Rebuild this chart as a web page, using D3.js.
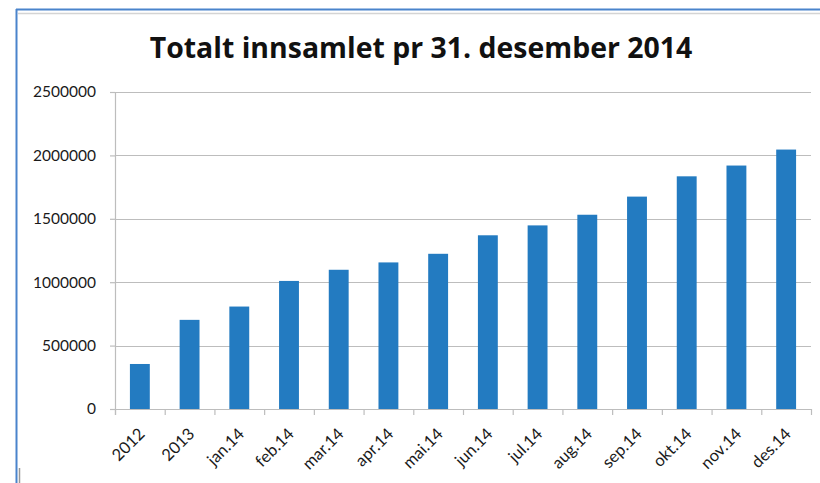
<!DOCTYPE html>
<html>
<head>
<meta charset="utf-8">
<script src="https://cdn.jsdelivr.net/npm/d3@7"></script>
<style>
  body { margin: 0; background: #fff; }
  svg { display: block; }
  .axis text { font-family: Lato, 'Open Sans', sans-serif; fill: #1a1a1a; }
  .y-axis text { font-size: 15.5px; }
  .x-axis text { font-size: 16.5px; }
</style>
</head>
<body>
<svg id="chart" width="820" height="483"></svg>
<script>
// chart data
const categories = ['2012', '2013', 'jan.14', 'feb.14', 'mar.14', 'apr.14', 'mai.14',
  'jun.14', 'jul.14', 'aug.14', 'sep.14', 'okt.14', 'nov.14', 'des.14'];
const totals = [355000, 703000, 808000, 1010000, 1098000, 1156000, 1224000,
  1370000, 1448000, 1532000, 1675000, 1835000, 1920000, 2046000];
const yTicks = [0, 500000, 1000000, 1500000, 2000000, 2500000];
const title = 'Totalt innsamlet pr 31. desember 2014';

const width = 820;
const height = 483;
const padding = { top: 92, right: 9, bottom: 74, left: 115 };
const plotWidth = width - padding.left - padding.right;
const plotHeight = height - padding.top - padding.bottom;

const svg = d3.select('#chart');

// frame: blue border with light inner line
svg.append('line').attr('x1', 16).attr('x2', width).attr('y1', 9.5).attr('y2', 9.5)
  .attr('stroke', '#4a84cc').attr('stroke-width', 2);
svg.append('line').attr('x1', 18).attr('x2', width).attr('y1', 13.5).attr('y2', 13.5)
  .attr('stroke', '#d4d4d4').attr('stroke-width', 1.5);
svg.append('line').attr('x1', 16.5).attr('x2', 16.5).attr('y1', 9).attr('y2', height)
  .attr('stroke', '#4a84cc').attr('stroke-width', 2);
svg.append('line').attr('x1', 19.5).attr('x2', 19.5).attr('y1', 468).attr('y2', height)
  .attr('stroke', '#999').attr('stroke-width', 1.5);

const xScale = d3.scaleBand()
  .domain(categories)
  .range([0, plotWidth])
  .paddingInner(0.6)
  .paddingOuter(0.3);

const yScale = d3.scaleLinear()
  .domain([0, 2500000])
  .range([plotHeight, 0]);

const g = svg.append('g').attr('transform', `translate(${padding.left} ${padding.top})`);

// gridlines
g.append('g')
  .selectAll('line')
  .data(yTicks.filter(d => d > 0))
  .join('line')
  .attr('x1', 0)
  .attr('x2', plotWidth)
  .attr('y1', d => Math.round(yScale(d)) + 0.5)
  .attr('y2', d => Math.round(yScale(d)) + 0.5)
  .attr('stroke', '#bdbdbd')
  .attr('stroke-width', 1.2);

// y axis
const yAxis = d3.axisLeft(yScale).tickValues(yTicks).tickSize(5).tickPadding(14).tickFormat(d3.format('d'));
g.append('g').attr('class', 'axis y-axis').call(yAxis)
  .call(a => a.selectAll('line, path').attr('stroke', '#bdbdbd').attr('stroke-width', 1.2))
  .call(a => a.select('.domain').attr('d', `M-5,0.5H0.5V${plotHeight + 6}`));

// bars
g.append('g')
  .selectAll('rect')
  .data(totals)
  .join('rect')
  .attr('x', (d, i) => xScale(categories[i]))
  .attr('y', d => yScale(d))
  .attr('width', xScale.bandwidth())
  .attr('height', d => plotHeight - yScale(d))
  .attr('fill', '#237bc1');

// x axis with ticks between categories
const step = xScale.step();
const xAxis = g.append('g').attr('class', 'axis x-axis')
  .attr('transform', `translate(0 ${plotHeight})`);
xAxis.append('line').attr('x1', 0).attr('x2', plotWidth).attr('y1', 0.5).attr('y2', 0.5)
  .attr('stroke', '#bdbdbd').attr('stroke-width', 1.2);
xAxis.selectAll('.tick-line')
  .data(d3.range(categories.length + 1))
  .join('line')
  .attr('class', 'tick-line')
  .attr('x1', i => i * step + 0.5)
  .attr('x2', i => i * step + 0.5)
  .attr('y1', 0)
  .attr('y2', 6)
  .attr('stroke', '#bdbdbd')
  .attr('stroke-width', 1.2);
xAxis.selectAll('text')
  .data(categories)
  .join('text')
  .attr('text-anchor', 'end')
  .attr('transform', d => `translate(${xScale(d) + xScale.bandwidth() / 2 + 6} ${26}) rotate(-45)`)
  .text(d => d);

// title, font size fitted to the reference width
const titleText = svg.append('text')
  .attr('x', 421)
  .attr('y', 58)
  .attr('text-anchor', 'middle')
  .attr('font-family', '"Open Sans", "Noto Sans", sans-serif')
  .attr('font-weight', 'bold')
  .attr('font-size', 28)
  .attr('fill', '#111')
  .text(title);
const tw = titleText.node().getComputedTextLength();
titleText.attr('font-size', 28 * 543 / tw);
</script>
</body>
</html>
